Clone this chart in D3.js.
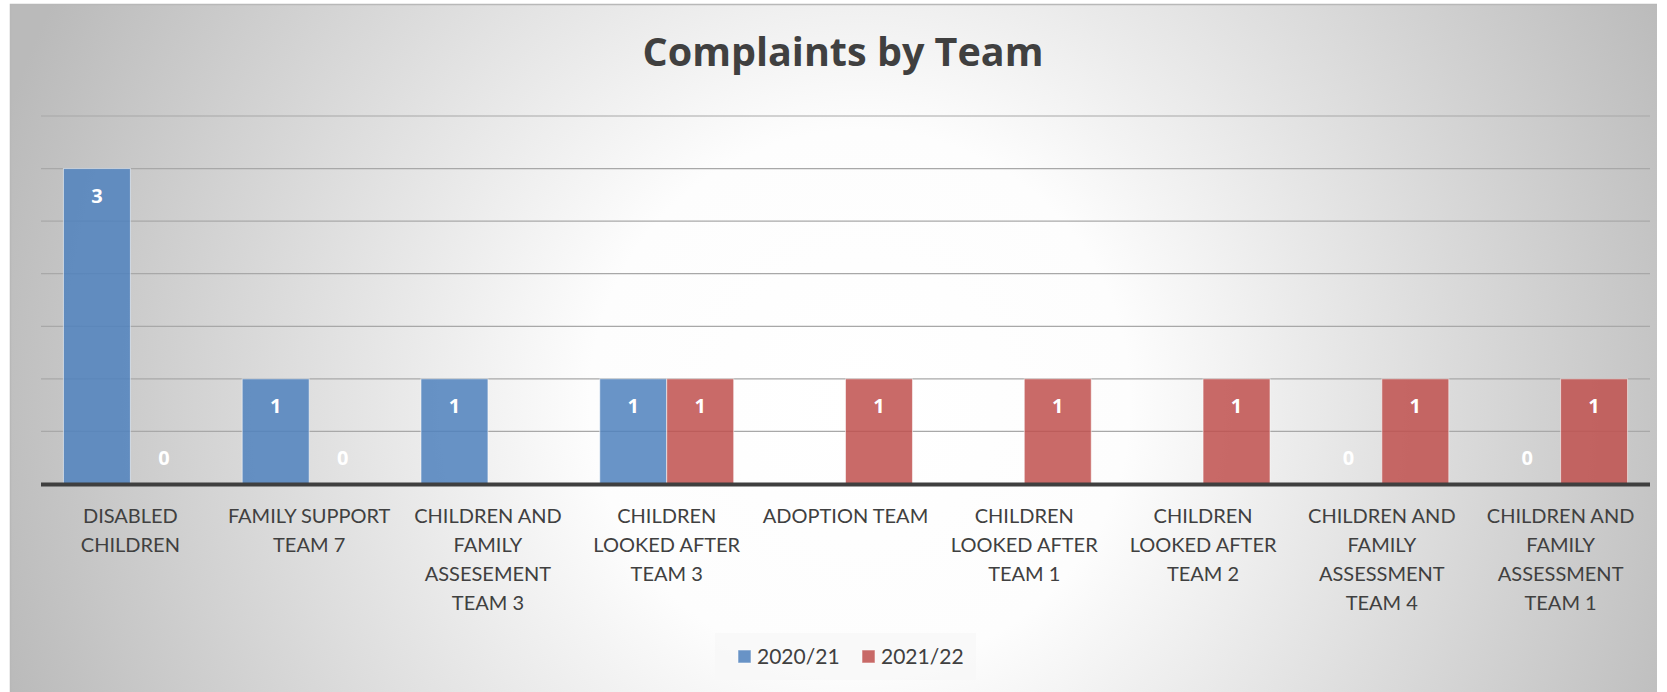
<!DOCTYPE html>
<html>
<head>
<meta charset="utf-8">
<script src="https://cdn.jsdelivr.net/npm/d3@7"></script>
<style>
  body { margin: 0; background: #fff; }
  svg { display: block; font-family: Lato, "Open Sans", sans-serif; }
</style>
</head>
<body>
<svg id="chart"></svg>
<script>
const width = 1667;
const height = 692;

// data
const categories = [
  'DISABLED\nCHILDREN',
  'FAMILY SUPPORT\nTEAM 7',
  'CHILDREN AND\nFAMILY\nASSESEMENT\nTEAM 3',
  'CHILDREN\nLOOKED AFTER\nTEAM 3',
  'ADOPTION TEAM',
  'CHILDREN\nLOOKED AFTER\nTEAM 1',
  'CHILDREN\nLOOKED AFTER\nTEAM 2',
  'CHILDREN AND\nFAMILY\nASSESSMENT\nTEAM 4',
  'CHILDREN AND\nFAMILY\nASSESSMENT\nTEAM 1'
];
const seriesNames = ['2020/21', '2021/22'];
const values2020 = [3, 1, 1, 1, null, null, null, 0, 0];
const values2021 = [0, 0, null, 1, 1, 1, 1, 1, 1];
const seriesColors = ['#4F81BD', '#C0504D'];
const gridTicks = [0.5, 1, 1.5, 2, 2.5, 3, 3.5];

const seriesValues = [values2020, values2021];

const svg = d3.select('#chart')
  .attr('width', width)
  .attr('height', height);

// background: radial grey gradient like the office chart style
const defs = svg.append('defs');
const grad = defs.append('radialGradient')
  .attr('id', 'bg')
  .attr('gradientUnits', 'userSpaceOnUse')
  .attr('cx', 860).attr('cy', 400).attr('r', 900);
grad.append('stop').attr('offset', 0).attr('stop-color', '#ffffff');
grad.append('stop').attr('offset', 0.3).attr('stop-color', '#fdfdfd');
grad.append('stop').attr('offset', 1).attr('stop-color', '#bababa');

svg.append('rect')
  .attr('x', 10).attr('y', 4)
  .attr('width', 1647).attr('height', height - 4)
  .attr('fill', 'url(#bg)');
svg.append('path')
  .attr('d', `M10.5,${height}V4.5H1657`)
  .attr('fill', 'none')
  .attr('stroke', '#b8b8b8')
  .attr('stroke-width', 1.5);

// title
svg.append('text')
  .attr('x', 843).attr('y', 66)
  .attr('text-anchor', 'middle')
  .attr('font-family', '"Open Sans", sans-serif')
  .attr('font-size', 39.5)
  .attr('font-weight', 'bold')
  .attr('fill', '#404040')
  .text('Complaints by Team');

const margin = {left: 41, right: 17, top: 116, bottom: 208};

const x = d3.scaleBand()
  .domain(d3.range(categories.length))
  .range([margin.left, width - margin.right]);

const xs = d3.scaleBand()
  .domain(d3.range(seriesNames.length))
  .range([0, x.bandwidth()])
  .paddingOuter(0.335);

const y = d3.scaleLinear()
  .domain([0, 3.5])
  .range([height - margin.bottom, margin.top]);

// gridlines
svg.append('g')
  .selectAll('line')
  .data(gridTicks)
  .join('line')
    .attr('x1', margin.left).attr('x2', width - margin.right)
    .attr('y1', d => y(d)).attr('y2', d => y(d))
    .attr('stroke', '#a8a8a8')
    .attr('stroke-width', 1.2);

// bars
const groups = svg.append('g')
  .selectAll('g')
  .data(seriesValues)
  .join('g')
    .attr('fill', (d, i) => seriesColors[i]);

groups.each(function(vals, si) {
  const g = d3.select(this);
  const items = vals.map((v, ci) => ({v, ci, si}));
  g.selectAll('rect')
    .data(items.filter(d => d.v))
    .join('rect')
      .attr('x', d => x(d.ci) + xs(si))
      .attr('y', d => y(d.v))
      .attr('width', xs.bandwidth())
      .attr('height', d => y(0) - y(d.v))
      .attr('fill-opacity', 0.85)
      .attr('stroke', 'rgba(255,255,255,0.55)')
      .attr('stroke-width', 1);
  g.selectAll('text')
    .data(items.filter(d => d.v !== null))
    .join('text')
      .attr('x', d => x(d.ci) + xs(si) + xs.bandwidth() / 2)
      .attr('y', d => d.v > 0 ? y(d.v) + 27 : y(0) - 26)
      .attr('dy', '0.35em')
      .attr('text-anchor', 'middle')
      .attr('font-family', '"Open Sans", sans-serif')
      .attr('font-size', 20)
      .attr('font-weight', 'bold')
      .attr('fill', '#fff')
      .text(d => d.v);
});

// baseline
svg.append('line')
  .attr('x1', margin.left).attr('x2', width - margin.right)
  .attr('y1', y(0) + 0.5).attr('y2', y(0) + 0.5)
  .attr('stroke', '#3f3f3f')
  .attr('stroke-width', 4);

// category labels
const xAxis = svg.append('g');
categories.forEach((c, i) => {
  const t = xAxis.append('text')
    .attr('x', x(i) + x.bandwidth() / 2)
    .attr('y', 523)
    .attr('text-anchor', 'middle')
    .attr('font-size', 20)
    .attr('fill', '#404040');
  c.split('\n').forEach((line, k) => {
    t.append('tspan')
      .attr('x', x(i) + x.bandwidth() / 2)
      .attr('y', 523 + k * 29)
      .text(line);
  });
});

// legend
const legend = svg.append('g');
legend.append('rect')
  .attr('x', 715).attr('y', 633)
  .attr('width', 261).attr('height', 47)
  .attr('fill', '#f7f7f7')
  .attr('fill-opacity', 0.8);
const legendX = [738, 862];
seriesNames.forEach((s, i) => {
  legend.append('rect')
    .attr('x', legendX[i]).attr('y', 650)
    .attr('width', 13).attr('height', 13)
    .attr('fill', seriesColors[i])
    .attr('fill-opacity', 0.85)
    .attr('stroke', 'rgba(255,255,255,0.55)');
  legend.append('text')
    .attr('x', legendX[i] + 19).attr('y', 664)
    .attr('font-size', 21)
    .attr('fill', '#404040')
    .text(s);
});
</script>
</body>
</html>
